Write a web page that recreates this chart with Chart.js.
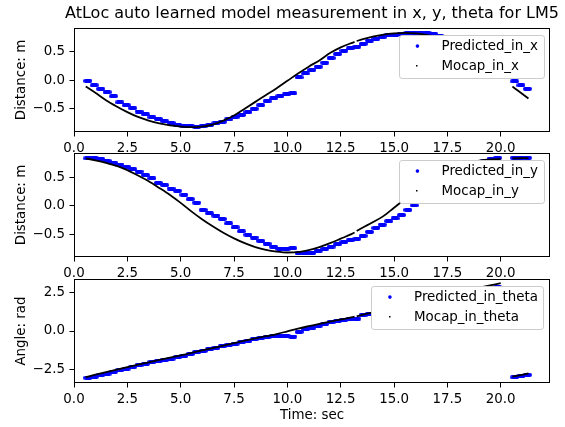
<!DOCTYPE html>
<html><head><meta charset="utf-8">
<script src="https://cdn.jsdelivr.net/npm/chart.js@4.4.1/dist/chart.umd.min.js"></script>
<style>
html,body{margin:0;padding:0;background:#fff;}
#wrap{position:relative;width:565px;height:427px;background:#fff;}
#wrap canvas{position:absolute;left:0;top:0;}
</style></head><body>
<div id="wrap">
<canvas id="c1" width="565" height="427"></canvas>
<canvas id="c2" width="565" height="427"></canvas>
<canvas id="c3" width="565" height="427"></canvas>
</div>
<script>
const chartTitle = "AtLoc auto learned model measurement in x, y, theta for LM5";
const yTitles = ["Distance: m", "Distance: m", "Angle: rad"];
const xTitle = "Time: sec";
const predLabels = ["Predicted_in_x", "Predicted_in_y", "Predicted_in_theta"];
const mocapLabels = ["Mocap_in_x", "Mocap_in_y", "Mocap_in_theta"];
const xTickValues = [0, 2.5, 5, 7.5, 10, 12.5, 15, 17.5, 20];

// Mocap (ground truth) samples; null marks a break in the recording
const mocapTime = [0.55,1.0,1.5,2.0,2.5,3.0,3.5,4.0,4.5,5.0,5.5,6.0,6.5,7.0,7.5,8.0,8.5,9.0,9.5,10.0,10.5,11.0,11.5,12.0,12.5,13.0,13.15,13.2,13.25,13.5,14.0,14.5,15.0,15.5,16.0,16.5,17.0,17.5,18.0,18.5,19.0,19.5,20.0,20.3,20.55,20.8,21.05,21.3];
const mocapX = [-0.11,-0.22,-0.35,-0.46,-0.56,-0.645,-0.71,-0.76,-0.795,-0.815,-0.825,-0.815,-0.78,-0.71,-0.62,-0.50,-0.38,-0.26,-0.14,-0.01,0.12,0.24,0.35,0.48,0.58,0.655,0.675,null,0.69,0.72,0.77,0.805,0.825,0.835,0.825,0.80,0.76,0.70,0.62,0.52,0.40,0.26,0.10,null,-0.11,-0.18,-0.25,-0.32];
const mocapY = [0.845,0.81,0.765,0.71,0.635,0.54,0.44,0.32,0.195,0.055,-0.095,-0.235,-0.36,-0.475,-0.575,-0.66,-0.73,-0.78,-0.81,-0.825,-0.82,-0.785,-0.73,-0.66,-0.58,-0.50,-0.47,null,-0.445,-0.39,-0.29,-0.18,-0.03,0.12,0.27,0.41,0.53,0.63,0.71,0.77,0.805,0.825,0.835,null,0.845,0.847,0.848,0.848];
const mocapTheta = [-3.0,-2.85,-2.68,-2.52,-2.35,-2.19,-2.04,-1.89,-1.74,-1.59,-1.43,-1.27,-1.11,-0.95,-0.79,-0.63,-0.48,-0.34,-0.20,-0.02,0.16,0.31,0.46,0.61,0.75,0.89,0.93,null,0.96,1.05,1.22,1.38,1.54,1.70,1.86,2.02,2.18,2.34,2.50,2.66,2.82,2.97,3.12,null,-2.98,-2.91,-2.84,-2.77];

// Predicted samples
const predTime = [0.65,0.95,1.25,1.55,1.85,2.15,2.45,2.75,3.05,3.35,3.65,3.95,4.25,4.55,4.85,5.15,5.45,5.75,6.05,6.35,6.65,6.95,7.25,7.55,7.85,8.15,8.45,8.75,9.05,9.35,9.65,9.95,10.25,10.55,10.85,11.15,11.45,11.75,12.05,12.35,12.65,12.95,13.25,13.55,13.85,14.15,14.45,14.75,15.05,15.35,15.65,15.95,16.25,16.55,16.85,17.15,17.45,17.75,18.05,18.35,18.65,18.95,19.25,19.55,19.85,20.65,20.95,21.25];
const predX = [-0.01,-0.09,-0.15,-0.21,-0.28,-0.39,-0.44,-0.49,-0.55,-0.60,-0.65,-0.68,-0.72,-0.75,-0.78,-0.80,-0.81,-0.82,-0.81,-0.79,-0.76,-0.73,-0.69,-0.65,-0.61,-0.56,-0.50,-0.44,-0.37,-0.32,-0.28,-0.25,-0.23,0.05,0.12,0.18,0.24,0.31,0.39,0.46,0.52,0.56,0.59,0.64,0.70,0.73,0.76,0.79,0.80,0.82,0.83,0.835,0.835,0.83,0.82,0.78,0.72,0.66,0.58,0.50,0.42,0.34,0.26,0.18,0.10,-0.02,-0.09,-0.15];
const predY = [0.845,0.845,0.835,0.80,0.77,0.735,0.70,0.655,0.61,0.55,0.49,0.41,0.37,0.31,0.27,0.20,0.12,0.06,-0.07,-0.13,-0.17,-0.23,-0.31,-0.38,-0.45,-0.51,-0.56,-0.62,-0.67,-0.72,-0.76,-0.76,-0.75,-0.84,-0.84,-0.83,-0.79,-0.76,-0.72,-0.68,-0.64,-0.61,-0.585,-0.53,-0.46,-0.39,-0.33,-0.27,-0.22,-0.16,-0.07,0.01,0.08,0.17,0.26,0.35,0.43,0.51,0.58,0.64,0.70,0.75,0.79,0.84,0.855,0.855,0.855,0.855];
const predTheta = [-3.05,-2.98,-2.88,-2.78,-2.66,-2.56,-2.45,-2.35,-2.24,-2.14,-2.04,-1.95,-1.87,-1.80,-1.72,-1.62,-1.50,-1.39,-1.30,-1.20,-1.10,-1.00,-0.90,-0.82,-0.73,-0.64,-0.55,-0.46,-0.39,-0.32,-0.30,-0.31,-0.36,-0.06,0.10,0.22,0.35,0.46,0.56,0.66,0.74,0.80,0.80,1.02,1.13,1.24,1.34,1.44,1.54,1.64,1.74,1.84,1.94,2.04,2.14,2.24,2.34,2.44,2.54,2.60,2.66,2.72,2.77,2.82,2.86,-3.02,-2.95,-2.86];

const FONT = 'DejaVu Sans';
const FS = 13.4;
Chart.defaults.font.family = FONT;
Chart.defaults.font.size = FS;
Chart.defaults.color = '#000';

function pts(ts, vs) { return ts.map((t, i) => ({x: t, y: vs[i]})); }

function capsule(color) {
  const c = document.createElement('canvas');
  c.width = 9; c.height = 4;
  const g = c.getContext('2d');
  g.strokeStyle = color; g.lineWidth = 4; g.lineCap = 'round';
  g.beginPath(); g.moveTo(2, 2); g.lineTo(7, 2); g.stroke();
  return c;
}
const blueDash = capsule('#0000ff');

function fmt(v) {
  const r = Math.round(v * 10) / 10;
  if (Math.abs(r) < 1e-9) return '0.0';
  return (r < 0 ? '\u2212' : '') + Math.abs(r).toFixed(1);
}

const boxPlugin = {
  id: 'box',
  afterDatasetsDraw(chart) {
    const a = chart.chartArea, ctx = chart.ctx;
    ctx.save();
    ctx.strokeStyle = '#000'; ctx.lineWidth = 1;
    const l = Math.round(a.left) + 0.5, t = Math.round(a.top) + 0.5;
    const r = Math.round(a.right) - 0.5, b = Math.round(a.bottom) - 0.5;
    ctx.strokeRect(l, t, r - l, b - t);
    ctx.restore();
  }
};

// axes title centred over the plot area (no width squeeze)
const axTitlePlugin = {
  id: 'axTitle',
  afterDraw(chart, args, opts) {
    if (!opts || !opts.text) return;
    const a = chart.chartArea, ctx = chart.ctx;
    ctx.save();
    ctx.font = '16px "' + FONT + '"';
    ctx.fillStyle = '#000';
    ctx.textAlign = 'center';
    ctx.textBaseline = 'middle';
    ctx.fillText(opts.text, (a.left + a.right) / 2, a.top - 14.6);
    ctx.restore();
  }
};

const legendPlugin = {
  id: 'mplLegend',
  afterDraw(chart) {
    const a = chart.chartArea, ctx = chart.ctx;
    const fs = FS;
    const ds = chart.data.datasets;
    ctx.save();
    ctx.font = fs + 'px "' + FONT + '"';
    const tw = Math.max(...ds.map(d => ctx.measureText(d.label).width));
    const w = 0.4 * fs * 2 + 2 * fs + 0.8 * fs + tw;
    const h = 43.4;
    const x0 = a.right - 0.5 * fs - w, y0 = a.top + 0.5 * fs;
    ctx.beginPath();
    ctx.roundRect(Math.round(x0) + 0.5, Math.round(y0) + 0.5, Math.round(w), Math.round(h), 2.6);
    ctx.fillStyle = '#ffffff';
    ctx.fill();
    ctx.strokeStyle = '#cccccc'; ctx.lineWidth = 1;
    ctx.stroke();
    const mx = x0 + 0.4 * fs + fs;
    const tx = x0 + 0.4 * fs + 2 * fs + 0.8 * fs;
    ds.forEach((d, i) => {
      const cy = y0 + 11.4 + i * 20;
      if (d.mplMarker === 'dot') {
        ctx.fillStyle = '#0000ff';
        ctx.beginPath(); ctx.arc(mx, cy, 1.8, 0, Math.PI * 2); ctx.fill();
      } else {
        ctx.fillStyle = '#000';
        ctx.fillRect(Math.round(mx) - 1, Math.round(cy) - 1, 1.5, 1.5);
      }
      ctx.fillStyle = '#000';
      ctx.textBaseline = 'middle';
      ctx.textAlign = 'left';
      ctx.fillText(d.label, tx, cy);
    });
    ctx.restore();
  }
};

function makeChart(id, k, cfg) {
  const bottomH = 427 - cfg.bottom;
  return new Chart(document.getElementById(id), {
    type: 'scatter',
    data: {
      datasets: [
        {
          label: predLabels[k],
          mplMarker: 'dot',
          data: pts(predTime, cfg.pred),
          pointStyle: blueDash,
          pointRadius: 3,
          pointHoverRadius: 3,
          backgroundColor: '#0000ff',
          borderColor: '#0000ff',
          showLine: false,
          order: 1
        },
        {
          label: mocapLabels[k],
          mplMarker: 'pixel',
          data: pts(mocapTime, cfg.mocap),
          showLine: true,
          spanGaps: false,
          borderColor: '#000',
          backgroundColor: '#000',
          borderWidth: 1.8,
          pointRadius: 0,
          cubicInterpolationMode: 'monotone',
          order: 0
        }
      ]
    },
    options: {
      responsive: false,
      animation: false,
      devicePixelRatio: 1,
      layout: { padding: { left: 0, right: 15, top: cfg.top, bottom: 0 } },
      plugins: {
        legend: { display: false },
        tooltip: { enabled: false },
        title: { display: false },
        axTitle: { text: cfg.title || '' }
      },
      scales: {
        x: {
          type: 'linear',
          min: 0, max: 22.31,
          afterFit: s => { s.height = bottomH; },
          afterBuildTicks: s => { s.ticks = xTickValues.map(v => ({value: v})); },
          ticks: { stepSize: 2.5, includeBounds: false, autoSkip: false, maxRotation: 0, padding: 3.6, callback: v => fmt(v), color: '#000', font: { size: FS } },
          grid: { drawOnChartArea: false, drawTicks: true, tickLength: 4.5, color: '#000', tickColor: '#000', lineWidth: 1 },
          border: { display: false },
          title: { display: !!cfg.xTitle, text: cfg.xTitle || '', color: '#000', font: { size: FS }, padding: { top: 0, bottom: 3 } }
        },
        y: {
          type: 'linear',
          min: cfg.ymin, max: cfg.ymax,
          afterFit: s => { s.width = 74; },
          afterBuildTicks: s => { s.ticks = cfg.yTicks.map(v => ({value: v})); },
          ticks: { autoSkip: false, padding: 4.5, callback: v => fmt(v), color: '#000', font: { size: FS } },
          grid: { drawOnChartArea: false, drawTicks: true, tickLength: 4.5, color: '#000', tickColor: '#000', lineWidth: 1 },
          border: { display: false },
          title: { display: true, text: yTitles[k], color: '#000', font: { size: FS }, padding: { top: 13, bottom: 0 } }
        }
      }
    },
    plugins: [boxPlugin, legendPlugin, axTitlePlugin]
  });
}

makeChart('c1', 0, { top: 28, bottom: 132, ymin: -0.91, ymax: 0.92, yTicks: [-0.5, 0, 0.5], pred: predX, mocap: mocapX, title: chartTitle });
makeChart('c2', 1, { top: 153, bottom: 257, ymin: -0.905, ymax: 0.94, yTicks: [-0.5, 0, 0.5], pred: predY, mocap: mocapY });
makeChart('c3', 2, { top: 279, bottom: 383, ymin: -3.39, ymax: 3.39, yTicks: [-2.5, 0, 2.5], pred: predTheta, mocap: mocapTheta, xTitle: xTitle });
</script>
</body></html>
